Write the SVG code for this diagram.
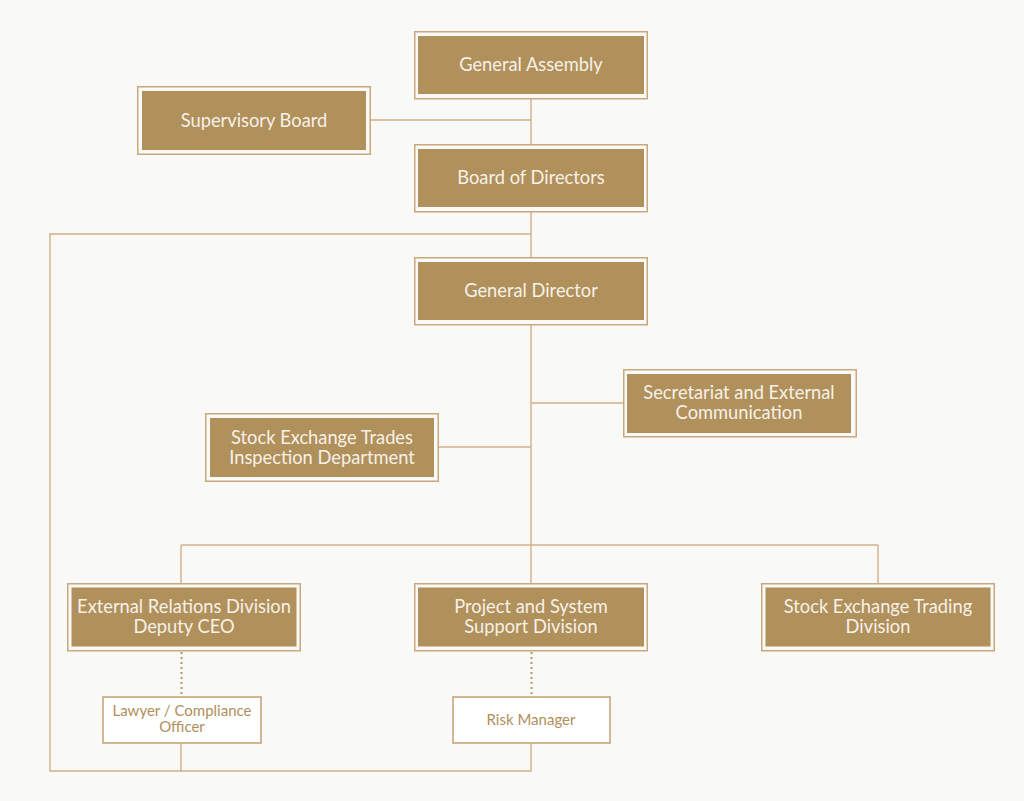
<svg xmlns="http://www.w3.org/2000/svg" width="1024" height="801" viewBox="0 0 1024 801">
<style>
.frame{fill:none;stroke:#c9a97b;stroke-width:1.5}
.fill{fill:#b0905b}
.t{font-family:Lato,"Liberation Sans",sans-serif;font-size:18.3px;fill:#f7f1e8;text-anchor:middle}
.ts{font-family:Lato,"Liberation Sans",sans-serif;font-size:15px;fill:#b08f5c;text-anchor:middle}
.sub{fill:#ffffff;stroke:#c2a070;stroke-width:1.5}
.ln{fill:none;stroke:#d0b087;stroke-width:1.4}
.dot{fill:none;stroke:#b8956a;stroke-width:2;stroke-dasharray:2 3}
</style>
<rect width="1024" height="801" fill="#f9f9f8"/>
<g id="connectors">
<path class="ln" d="M531 99V144M371 120H531M531 212V257M531 234H50V771H531V743M181 743V771"/>
<path class="ln" d="M531 325V545M531 403H623M439 447H531M181 545H878M181 545V583M531 545V583M878 545V583"/>
<path class="dot" d="M181.5 652V697M531.5 652V697"/>
</g>
<g id="general-assembly">
<rect class="frame" x="414.75" y="31.75" width="232.5" height="67"/>
<rect class="fill" x="418" y="36" width="226" height="58"/>
<text class="t" x="531" y="71">General Assembly</text>
</g>
<g id="supervisory-board">
<rect class="frame" x="137.75" y="86.75" width="232.5" height="67.5"/>
<rect class="fill" x="142" y="91" width="224" height="59"/>
<text class="t" x="254" y="127">Supervisory Board</text>
</g>
<g id="board-of-directors">
<rect class="frame" x="414.75" y="144.75" width="232.5" height="67"/>
<rect class="fill" x="418" y="149" width="226" height="58"/>
<text class="t" x="531" y="184">Board of Directors</text>
</g>
<g id="general-director">
<rect class="frame" x="414.75" y="257.75" width="232.5" height="67"/>
<rect class="fill" x="418" y="262" width="226" height="58"/>
<text class="t" x="531" y="297">General Director</text>
</g>
<g id="secretariat">
<rect class="frame" x="623.75" y="369.75" width="232.5" height="67"/>
<rect class="fill" x="627" y="374" width="224" height="59"/>
<text class="t" x="739" y="399">Secretariat and External</text>
<text class="t" x="739" y="419">Communication</text>
</g>
<g id="inspection">
<rect class="frame" x="205.75" y="413.75" width="232.5" height="67.5"/>
<rect class="fill" x="210" y="418" width="224" height="59"/>
<text class="t" x="322" y="444">Stock Exchange Trades</text>
<text class="t" x="322" y="464">Inspection Department</text>
</g>
<g id="external-relations">
<rect class="frame" x="67.75" y="583.75" width="232.5" height="67"/>
<rect class="fill" x="71.5" y="587.5" width="225" height="59"/>
<text class="t" x="184" y="613">External Relations Division</text>
<text class="t" x="184" y="633">Deputy CEO</text>
</g>
<g id="project-system">
<rect class="frame" x="414.75" y="583.75" width="232.5" height="67"/>
<rect class="fill" x="418" y="587.5" width="226" height="59"/>
<text class="t" x="531" y="613">Project and System</text>
<text class="t" x="531" y="633">Support Division</text>
</g>
<g id="trading-division">
<rect class="frame" x="761.75" y="583.75" width="232.5" height="67"/>
<rect class="fill" x="765.5" y="587.5" width="225" height="59"/>
<text class="t" x="878" y="613">Stock Exchange Trading</text>
<text class="t" x="878" y="633">Division</text>
</g>
<g id="lawyer">
<rect class="sub" x="103" y="697" width="158" height="46"/>
<text class="ts" x="182" y="716">Lawyer / Compliance</text>
<text class="ts" x="182" y="732">Officer</text>
</g>
<g id="risk-manager">
<rect class="sub" x="453" y="697" width="157" height="46"/>
<text class="ts" x="531" y="725">Risk Manager</text>
</g>
</svg>
